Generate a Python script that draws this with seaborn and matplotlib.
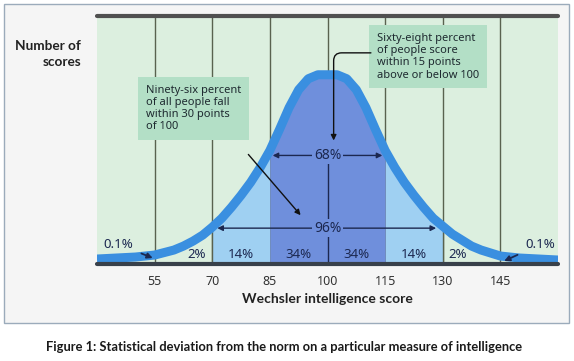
import matplotlib
matplotlib.use("Agg")
import matplotlib.pyplot as plt
import seaborn as sns
import pandas as pd

# curve (height above baseline, arbitrary units)
score = [40, 45, 50, 55, 60, 62.5, 65, 67.5, 70, 72.5, 75, 77.5, 80, 82.5,
         85, 87.5, 90, 92.5, 95, 97.5, 100, 102.5, 105, 107.5, 110, 112.5,
         115, 117.5, 120, 122.5, 125, 127.5, 130, 132.5, 135, 137.5, 140,
         145, 150, 155, 160]
height = [5, 6, 7, 9, 14, 18, 23, 29, 37, 46, 57, 69, 82, 97,
          114, 135, 157, 175, 186, 190, 190, 190, 186, 175, 157, 135,
          114, 97, 82, 69, 57, 46, 38, 30, 24, 18, 14,
          8, 6, 5, 4]

ticks = [55, 70, 85, 100, 115, 130, 145]
band_pos = [66, 77.5, 92.5, 107.5, 122.5, 134]
band_labels = ["2%", "14%", "34%", "34%", "14%", "2%"]

df = pd.DataFrame({"score": score, "height": height})

sns.set_theme(style="white")
plt.rcParams["font.family"] = ["Noto Sans", "DejaVu Sans"]
bold_font = ["Lato", "DejaVu Sans"]

green = "#dcefdf"
box_green = "#b3dfc6"
light_blue = "#9fd0f2"
dark_blue = "#6f8fdc"
curve_blue = "#3a8fe0"
navy = "#1c2850"

fig = plt.figure(figsize=(5.74, 3.61), dpi=100)
fig.patch.set_facecolor("white")

# light frame around the figure body
frame = plt.Rectangle((4 / 574, 1 - 323 / 361), 565 / 574, 319 / 361,
                      transform=fig.transFigure, facecolor="#f5f5f5",
                      edgecolor="#9babbb", lw=1, zorder=-5)
fig.patches.append(frame)

ax = fig.add_axes([97 / 574, 1 - 265 / 361, 461 / 574, 249 / 361])
ax.set_zorder(1)
ax.set_facecolor(green)
ax.set_xlim(40, 160)
ax.set_ylim(-1, 249)

# grid lines
ax.vlines(ticks, 0, 249, color="#59624f", lw=1, zorder=1)

# shaded bands under the curve
inner = df[(df.score >= 85) & (df.score <= 115)]
left = df[(df.score >= 70) & (df.score <= 85)]
right = df[(df.score >= 115) & (df.score <= 130)]
ax.fill_between(left.score, 0, left.height, color=light_blue, lw=0, zorder=2)
ax.fill_between(right.score, 0, right.height, color=light_blue, lw=0, zorder=2)
ax.fill_between(inner.score, 0, inner.height, color=dark_blue, lw=0, zorder=2)
ax.vlines([70, 130], 0, 36, color="#59624f", lw=1, zorder=2.5)
ax.vlines([100], 0, 110, color=navy, lw=1, zorder=3)

sns.lineplot(data=df, x="score", y="height", ax=ax, color=curve_blue,
             lw=6.5, zorder=4, solid_capstyle="butt")

# top rule and baseline
ax.axhline(249, color="#505050", lw=3, zorder=5, clip_on=False)
ax.axhline(0, color="#38404a", lw=3, zorder=5, clip_on=False)

for s in ax.spines.values():
    s.set_visible(False)

ax.set_xticks(ticks)
ax.set_xticklabels([str(t) for t in ticks], color="#333333", fontsize=9)
ax.tick_params(axis="x", length=0, pad=7)
ax.set_yticks([])
ax.set_xlabel("Wechsler intelligence score", fontsize=10, fontweight="bold",
              family=bold_font, color="#222222", labelpad=4)
ax.set_ylabel("")

# band percentages
for p, lab in zip(band_pos, band_labels):
    ax.text(p, 10, lab, ha="center", va="center", fontsize=9.5,
            color=navy, zorder=6)

# 68% and 96% ranges
ax.annotate("", xy=(85, 109), xytext=(115, 109),
            arrowprops=dict(arrowstyle="<|-|>", color=navy, lw=1,
                            mutation_scale=8), zorder=6)
ax.text(100, 109, "68%", ha="center", va="center", fontsize=10, color=navy,
        zorder=7, bbox=dict(boxstyle="square,pad=0.1", fc=dark_blue, ec="none"))
ax.annotate("", xy=(70.6, 36), xytext=(129, 36),
            arrowprops=dict(arrowstyle="<|-|>", color=navy, lw=1,
                            mutation_scale=8), zorder=6)
ax.text(100, 36, "96%", ha="center", va="center", fontsize=10, color=navy,
        zorder=7, bbox=dict(boxstyle="square,pad=0.1", fc=dark_blue, ec="none"))

# tail labels
ax.annotate("0.1%", xy=(54.5, 6), xytext=(45.5, 20), ha="center", va="center",
            fontsize=9.5, color=navy, zorder=7,
            arrowprops=dict(arrowstyle="-|>", color=navy, lw=1.3,
                            mutation_scale=8, shrinkA=4, shrinkB=0))
ax.annotate("0.1%", xy=(146, 3), xytext=(155.5, 20), ha="center", va="center",
            fontsize=9.5, color=navy, zorder=7,
            arrowprops=dict(arrowstyle="-|>", color=navy, lw=1.3,
                            mutation_scale=8, shrinkA=4, shrinkB=0))

# call-out boxes
ax.text(52.8, 180, "Ninety-six percent\nof all people fall\nwithin 30 points\nof 100",
        ha="left", va="top", fontsize=8, color="#1e2a30", linespacing=1.15,
        zorder=8, bbox=dict(boxstyle="square,pad=0.7", fc=box_green, ec="none"))
ax.annotate("", xy=(93, 49), xytext=(79.4, 110),
            arrowprops=dict(arrowstyle="-|>", color="#111111", lw=1,
                            mutation_scale=8, shrinkA=0, shrinkB=0), zorder=8)

ax.text(112.8, 232, "Sixty-eight percent\nof people score\nwithin 15 points\nabove or below 100",
        ha="left", va="top", fontsize=8, color="#1e2a30", linespacing=1.15,
        zorder=8, bbox=dict(boxstyle="square,pad=0.7", fc=box_green, ec="none"))
ax.annotate("", xy=(101.6, 124), xytext=(111.3, 212),
            arrowprops=dict(arrowstyle="-|>", color="#111111", lw=1,
                            mutation_scale=8, shrinkA=0, shrinkB=0,
                            connectionstyle="angle,angleA=180,angleB=90,rad=8"),
            zorder=8)

fig.text(81 / 574, 1 - 54 / 361, "Number of\nscores", ha="right", va="center",
         fontsize=9.8, fontweight="bold", family=bold_font, color="#222222",
         linespacing=1.3)

fig.text(284 / 574, 1 - 347 / 361,
         "Figure 1: Statistical deviation from the norm on a particular measure of intelligence",
         ha="center", va="center", fontsize=9.3, fontweight="bold",
         family=bold_font, color="#1a1a1a")

fig.savefig("out.png", dpi=100)
